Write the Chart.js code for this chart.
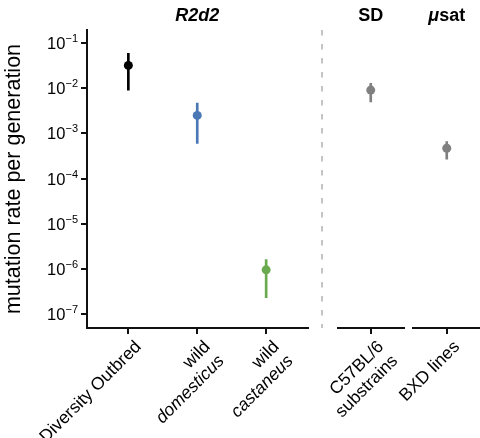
<!DOCTYPE html>
<html lang="en">
<head>
    <meta charset="UTF-8">
    <title>Mutation rate per generation</title>
    <script src="https://cdn.jsdelivr.net/npm/chart.js"></script>
    <style>
        html, body { margin: 0; padding: 0; background: #fff; }
        #wrap { position: relative; width: 480px; height: 438px; overflow: hidden; }
        #wrap > div { position: absolute; top: 0; height: 438px; }
    </style>
</head>
<body>
<div id="wrap">
    <div id="panel0" style="left: 0; width: 312px;"><canvas id="chart0"></canvas></div>
    <div id="panel1" style="left: 316px; width: 92px;"><canvas id="chart1"></canvas></div>
    <div id="panel2" style="left: 383px; width: 102px;"><canvas id="chart2"></canvas></div>
</div>

<script>
// data
const categories = ['Diversity Outbred', 'wild domesticus', 'wild castaneus', 'C57BL/6 substrains', 'BXD lines'];
const labelLines = [['Diversity Outbred'], ['wild', 'domesticus'], ['wild', 'castaneus'], ['C57BL/6', 'substrains'], ['BXD lines']];
const rates = [0.032, 0.0025, 9.5e-7, 0.0091, 4.7e-4];
const lower = [0.0091, 6.0e-4, 2.3e-7, 0.0050, 2.7e-4];
const upper = [0.059, 0.0047, 1.6e-6, 0.0129, 6.6e-4];
const colors = ['#000000', '#4a78b5', '#6aaa4f', '#808080', '#808080'];
const panelOf = [0, 0, 0, 1, 2];
const panelTitles = [[['R2d2', 'italic bold']], [['SD', 'bold']], [['μ', 'italic bold'], ['sat', 'bold']]];
const yTicks = [1e-7, 1e-6, 1e-5, 1e-4, 1e-3, 1e-2, 1e-1];
const yMin = 4.9e-8, yMax = 0.195;

const FONT = '"Liberation Sans", Arial, Helvetica, sans-serif';
const italicWords = ['domesticus', 'castaneus'];

function panelPlugin(panel, catIdx) {
    return {
        id: 'panelDecor' + panel,
        afterDraw(chart) {
            const ctx = chart.ctx;
            const area = chart.chartArea;
            const xs = chart.scales.x;
            ctx.save();
            // panel title
            const parts = panelTitles[panel];
            let total = 0;
            parts.forEach(p => { ctx.font = p[1] + ' 18px ' + FONT; total += ctx.measureText(p[0]).width; });
            let tx = (area.left + area.right) / 2 - total / 2;
            ctx.fillStyle = '#000';
            ctx.textBaseline = 'middle';
            ctx.textAlign = 'left';
            parts.forEach(p => {
                ctx.font = p[1] + ' 18px ' + FONT;
                ctx.fillText(p[0], tx, 16);
                tx += ctx.measureText(p[0]).width;
            });

            // rotated category labels
            catIdx.forEach((ci, k) => {
                const px = xs.getPixelForValue(k);
                ctx.save();
                ctx.translate(px + 4, area.bottom + 10);
                ctx.rotate(-Math.PI / 4);
                ctx.textAlign = 'right';
                ctx.textBaseline = 'top';
                labelLines[ci].forEach((line, li) => {
                    const it = italicWords.includes(line) ? 'italic ' : '';
                    ctx.font = it + '17.5px ' + FONT;
                    ctx.fillStyle = '#000';
                    ctx.fillText(line, 0, li * 20);
                });
                ctx.restore();
            });

            if (panel === 0) {
                // y tick labels with superscript exponents
                const ys = chart.scales.y;
                yTicks.forEach(v => {
                    const py = ys.getPixelForValue(v);
                    const exp = '\u2212' + Math.round(-Math.log10(v));
                    ctx.font = '11px ' + FONT;
                    const ew = ctx.measureText(exp).width;
                    const right = ys.right - 9;
                    ctx.textAlign = 'right';
                    ctx.textBaseline = 'alphabetic';
                    ctx.fillStyle = '#000';
                    ctx.fillText(exp, right, py - 1);
                    ctx.font = '16.5px ' + FONT;
                    ctx.fillText('10', right - ew, py + 6);
                });
            }
            if (panel === 1) {
                // dashed separator between facets
                ctx.strokeStyle = '#c4c4c4';
                ctx.lineWidth = 2;
                ctx.setLineDash([5.5, 8.5]);
                ctx.beginPath();
                ctx.moveTo(area.left - 16, area.top);
                ctx.lineTo(area.left - 16, area.bottom);
                ctx.stroke();
            }
            ctx.restore();
        }
    };
}

function makePanel(panel, padding, xMin, xMax) {
    const catIdx = categories.map((c, i) => i).filter(i => panelOf[i] === panel);
    const showY = panel === 0;
    new Chart(document.getElementById('chart' + panel), {
        data: {
            datasets: [{
                type: 'bar',
                data: catIdx.map((ci, k) => ({x: k, y: [lower[ci], upper[ci]]})),
                backgroundColor: catIdx.map(ci => colors[ci]),
                borderWidth: 0,
                barThickness: 2,
                order: 2
            }, {
                type: 'scatter',
                data: catIdx.map((ci, k) => ({x: k, y: rates[ci]})),
                backgroundColor: catIdx.map(ci => colors[ci]),
                borderWidth: 0,
                pointRadius: 4.5,
                order: 1
            }]
        },
        options: {
            responsive: true,
            maintainAspectRatio: false,
            animation: false,
            layout: {padding: padding},
            plugins: {legend: {display: false}, tooltip: {enabled: false}},
            scales: {
                x: {
                    type: 'linear',
                    min: xMin,
                    max: xMax,
                    offset: false,
                    afterBuildTicks: s => { s.ticks = catIdx.map((c, k) => ({value: k})); },
                    afterFit: s => { s.height = 110; },
                    ticks: {display: false},
                    grid: {offset: false, drawOnChartArea: false, drawTicks: true, tickLength: 6, color: '#111', lineWidth: 2},
                    border: {display: true, color: '#111', width: 2}
                },
                y: {
                    type: 'logarithmic',
                    display: showY,
                    min: yMin,
                    max: yMax,
                    afterBuildTicks: s => { s.ticks = yTicks.map(v => ({value: v})); },
                    afterFit: s => { s.width = showY ? 87 : 0; },
                    ticks: {display: false},
                    grid: {drawOnChartArea: false, drawTicks: true, tickLength: 6, color: '#111', lineWidth: 2},
                    border: {display: true, color: '#111', width: 2},
                    title: {
                        display: true,
                        text: 'mutation rate per generation',
                        color: '#000',
                        font: {size: 21.5, family: FONT},
                        padding: {top: 1, bottom: 0}
                    }
                }
            }
        },
        plugins: [panelPlugin(panel, catIdx)]
    });
}

makePanel(0, {top: 30, left: 0, right: 3, bottom: 0}, -0.6, 2.6);
makePanel(1, {top: 30, left: 22, right: 1, bottom: 0}, -0.5, 0.5);
makePanel(2, {top: 30, left: 30, right: 2, bottom: 0}, -0.5, 0.5);
</script>
</body>
</html>
